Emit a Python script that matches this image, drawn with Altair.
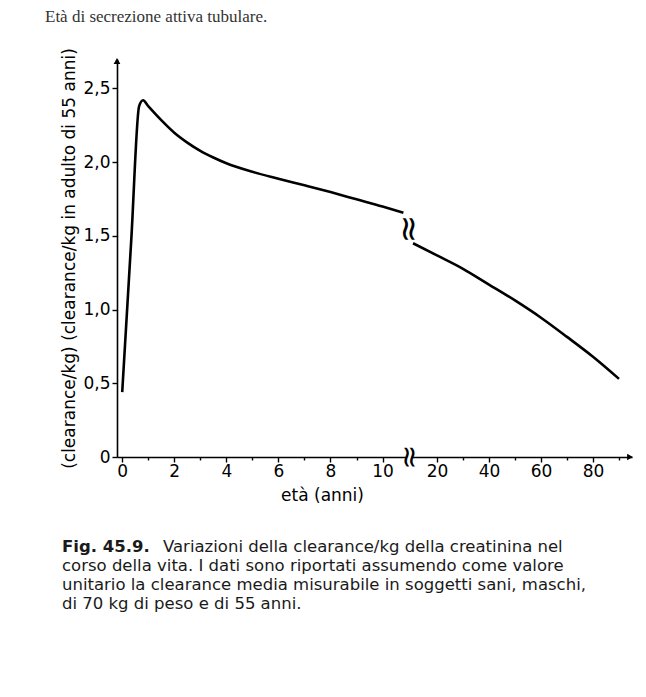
import altair as alt
import pandas as pd

# ---- data ----
age_early = [0, 0.35, 0.65, 0.8, 1.0, 1.5, 2, 2.5, 3, 3.5, 4, 5, 6, 7, 8, 9, 10, 10.8]
ratio_early = [0.44, 1.48, 2.38, 2.42, 2.38, 2.285, 2.2, 2.133, 2.077, 2.032, 1.993, 1.935, 1.888, 1.843, 1.797, 1.748, 1.699, 1.657]
age_late = [10.8, 20, 30, 40, 50, 60, 70, 80, 90]
ratio_late = [1.45, 1.368, 1.277, 1.17, 1.062, 0.945, 0.815, 0.68, 0.53]

y_ticks = [0, 0.5, 1.0, 1.5, 2.0, 2.5]
x_ticks_early = [0, 1, 2, 3, 4, 5, 6, 7, 8, 9, 10]
x_ticks_late = [20, 30, 40, 50, 60, 70, 80, 90]

y_title = "(clearance/kg) (clearance/kg in adulto di 55 anni)"
x_title = "età (anni)"
top_text = "Età di secrezione attiva tubulare."
fig_label = "Fig. 45.9."
caption_lines = [
    "Variazioni della clearance/kg della creatinina nel",
    "corso della vita. I dati sono riportati assumendo come valore",
    "unitario la clearance media misurabile in soggetti sani, maschi,",
    "di 70 kg di peso e di 55 anni.",
]

FONT = "DejaVu Sans"
H = 398
W1 = 289
W2 = 220

early = pd.DataFrame({"age": age_early, "ratio": ratio_early})
late = pd.DataFrame({"age": age_late, "ratio": ratio_late})

yscale = alt.Scale(domain=[0, 2.7], nice=False, zero=False)


def txt(s, x, y, **kw):
    base = dict(align="left", baseline="alphabetic", font=FONT, fontSize=16.5, color="#1a1a1a")
    base.update(kw)
    return alt.Chart(pd.DataFrame({"t": [s]})).mark_text(**base).encode(
        text="t:N", x=alt.value(x), y=alt.value(y)
    )


left_line = alt.Chart(early).mark_line(color="black", strokeWidth=2.6, interpolate="monotone").encode(
    x=alt.X(
        "age:Q",
        scale=alt.Scale(domain=[-0.2, 10.9], nice=False, zero=False),
        axis=alt.Axis(
            values=x_ticks_early,
            labelExpr="datum.value % 2 == 0 ? datum.label : ''",
            tickSize={"condition": {"test": "datum.value % 2 == 0", "value": 5}, "value": 3},
            labelPadding=1,
            title=x_title,
            titleX=205,
            titleY=43,
            titleAlign="center",
            titleBaseline="alphabetic",
        ),
    ),
    y=alt.Y(
        "ratio:Q",
        scale=yscale,
        axis=alt.Axis(
            values=y_ticks,
            labelExpr="datum.value == 0 ? '0' : replace(format(datum.value, '.1f'), '.', ',')",
            tickSize=5,
            labelPadding=2,
            title=y_title,
            titlePadding=4,
        ),
    ),
)

y_arrow = alt.Chart(pd.DataFrame({"t": [0]})).mark_point(
    shape="triangle-up", filled=True, size=45, color="black", opacity=1
).encode(x=alt.value(0), y=alt.value(2))

layers_left = [left_line, y_arrow, txt(top_text, -72, -37, font="Liberation Serif", fontSize=17, color="#333")]
cap_y0 = 493
layers_left.append(txt(fig_label, -55, cap_y0, fontWeight="bold"))
layers_left.append(txt(caption_lines[0], 46, cap_y0))
for i, line in enumerate(caption_lines[1:], start=1):
    layers_left.append(txt(line, -55, cap_y0 + 19 * i))

left = alt.layer(*layers_left).properties(width=W1, height=H)

right_line = alt.Chart(late).mark_line(color="black", strokeWidth=2.6, interpolate="monotone").encode(
    x=alt.X(
        "age:Q",
        scale=alt.Scale(domain=[10.4, 95], nice=False, zero=False),
        axis=alt.Axis(
            values=x_ticks_late,
            labelExpr="datum.value % 20 == 0 ? datum.label : ''",
            tickSize={"condition": {"test": "datum.value % 20 == 0", "value": 5}, "value": 3},
            labelPadding=1,
            title=None,
        ),
    ),
    y=alt.Y("ratio:Q", scale=yscale, axis=None),
)

x_arrow = alt.Chart(pd.DataFrame({"t": [0]})).mark_point(
    shape="triangle-right", filled=True, size=45, color="black", opacity=1
).encode(x=alt.value(W2 - 2), y=alt.value(H))

brk_axis = txt("≈", -3, H, align="center", baseline="middle", angle=90, fontSize=30, color="black", font=FONT)
brk_curve = txt("≈", -4, 170, align="center", baseline="middle", angle=90, fontSize=34, color="black", font=FONT)

right = alt.layer(right_line, x_arrow, brk_axis, brk_curve).properties(width=W2, height=H)

chart = (
    alt.hconcat(left, right, spacing=6, bounds="flush")
    .properties(padding={"left": 37, "top": 0, "right": 5, "bottom": 5})
    .configure_view(stroke=None)
    .configure_axis(
        grid=False,
        domainColor="black",
        domainWidth=1.6,
        tickColor="black",
        tickWidth=1.4,
        labelColor="black",
        labelFont=FONT,
        labelFontSize=17,
        titleFont=FONT,
        titleFontSize=17,
        titleFontWeight="normal",
        titleColor="black",
    )
)

chart.save("out.html", embed_options={"renderer": "svg", "actions": False})
